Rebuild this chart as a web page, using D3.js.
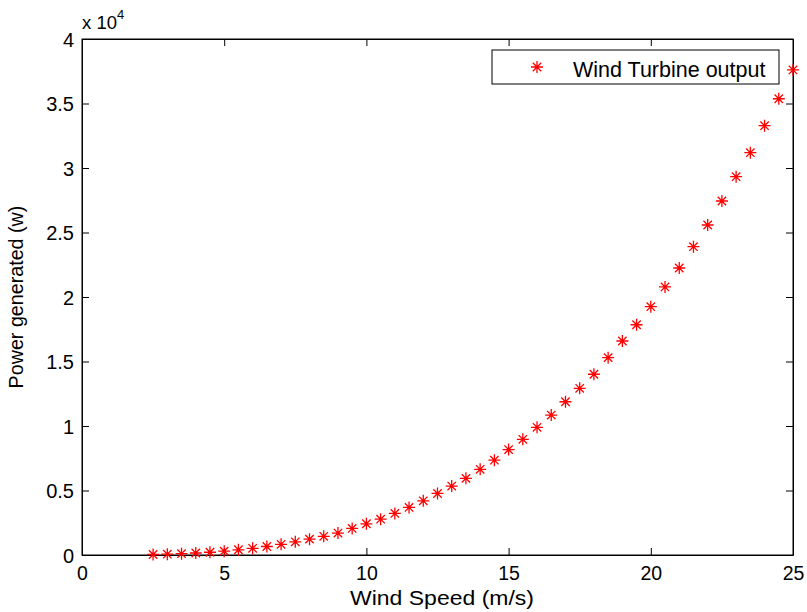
<!DOCTYPE html>
<html><head><meta charset="utf-8">
<script src="https://cdn.jsdelivr.net/npm/d3@7"></script>
<style>body{margin:0;background:#fff}svg{display:block;font-family:Arial,"Liberation Sans",sans-serif}</style>
</head><body>
<script>
const windSpeed = [2.5,3,3.5,4,4.5,5,5.5,6,6.5,7,7.5,8,8.5,9,9.5,10,10.5,11,11.5,12,12.5,13,13.5,14,14.5,15,15.5,16,16.5,17,17.5,18,18.5,19,19.5,20,20.5,21,21.5,22,22.5,23,23.5,24,24.5,25];
const power = [40,65,105,155,215,300,405,520,660,830,1020,1230,1450,1700,2060,2420,2780,3220,3690,4200,4770,5340,5940,6640,7350,8170,8970,9900,10850,11880,12920,14010,15300,16590,17850,19250,20780,22250,23900,25580,27440,29330,31190,33280,35370,37600];
const xTicks = [0,5,10,15,20,25];
const yTicks = [0,5000,10000,15000,20000,25000,30000,35000,40000];
const yTickLabels = ["0","0.5","1","1.5","2","2.5","3","3.5","4"];
const seriesName = "Wind Turbine output";

const W = 807, H = 612;
const m = {left:82, right:807-793, top:39, bottom:612-555};
const svg = d3.select("body").append("svg").attr("width", W).attr("height", H);
const x = d3.scaleLinear().domain([0,25]).range([m.left, W - m.right]);
const y = d3.scaleLinear().domain([0,40000]).range([H - m.bottom, m.top]);
const tl = 7;

// box
svg.append("rect").attr("x", x(0)).attr("y", y(40000)).attr("width", x(25)-x(0)).attr("height", y(0)-y(40000))
  .attr("fill","#fff").attr("stroke","#000").attr("stroke-width",1);

// axes
const gx = svg.append("g").attr("transform", `translate(0,${y(0)})`)
  .call(d3.axisBottom(x).tickValues(xTicks).tickSizeInner(-tl).tickSizeOuter(0).tickPadding(0).tickFormat(d3.format("d")));
gx.selectAll(".tick text").attr("y", 25).attr("dy", 0).attr("font-size", 19.5);
const gxt = svg.append("g").attr("transform", `translate(0,${y(40000)})`)
  .call(d3.axisTop(x).tickValues(xTicks).tickSizeInner(-tl).tickSizeOuter(0).tickFormat(""));
const gy = svg.append("g").attr("transform", `translate(${x(0)},0)`)
  .call(d3.axisLeft(y).tickValues(yTicks).tickSizeInner(-tl).tickSizeOuter(0).tickPadding(0).tickFormat((d,i)=>yTickLabels[i]));
gy.selectAll(".tick text").attr("x", -8).attr("dy", "0.36em").attr("font-size", 20);
const gyr = svg.append("g").attr("transform", `translate(${x(25)},0)`)
  .call(d3.axisRight(y).tickValues(yTicks).tickSizeInner(-tl).tickSizeOuter(0).tickFormat(""));
[gx,gxt,gy,gyr].forEach(g=>{
  g.attr("font-size", null);
  g.select(".domain").attr("stroke","#000");
  g.selectAll(".tick line").attr("stroke","#000");
  g.selectAll("text").attr("fill","#000").attr("font-family","Arial, 'Liberation Sans', sans-serif");
});

// exponent label
const ex = svg.append("text").attr("x", 82).attr("y", 29).attr("font-size", 18.5).attr("fill","#000");
ex.append("tspan").text("x 10");
ex.append("tspan").attr("dy", -10).attr("font-size", 13).text("4");

// axis labels
svg.append("text").attr("transform", `translate(442,605) scale(1.15,1)`).attr("text-anchor","middle")
  .attr("font-size", 20).attr("fill","#000").text("Wind Speed (m/s)");
svg.append("text").attr("transform", `translate(23,297) rotate(-90)`).attr("text-anchor","middle")
  .attr("font-size", 19.7).attr("fill","#000").text("Power generated (w)");

// asterisk marker
function star(s){
  const d = s*0.7;
  return `M${-s},0L${s},0M0,${-s}L0,${s}M${-d},${-d}L${d},${d}M${-d},${d}L${d},${-d}`;
}
svg.append("g").selectAll("path").data(windSpeed.map((v,i)=>[v,power[i]])).join("path")
  .attr("transform", d=>`translate(${x(d[0])},${y(d[1])})`)
  .attr("d", star(6)).attr("stroke","#ff0000").attr("stroke-width",1.3).attr("fill","none");

// legend
const lg = svg.append("g");
lg.append("rect").attr("x", 492).attr("y", 50).attr("width", 287).attr("height", 34)
  .attr("fill","#fff").attr("stroke","#000").attr("stroke-width",1);
lg.append("path").attr("transform","translate(537,67)").attr("d", star(6)).attr("stroke","#ff0000").attr("stroke-width",1.3).attr("fill","none");
lg.append("text").attr("x", 573).attr("y", 76.5).attr("font-size", 21.5).attr("fill","#000").text(seriesName);
</script>
</body></html>
